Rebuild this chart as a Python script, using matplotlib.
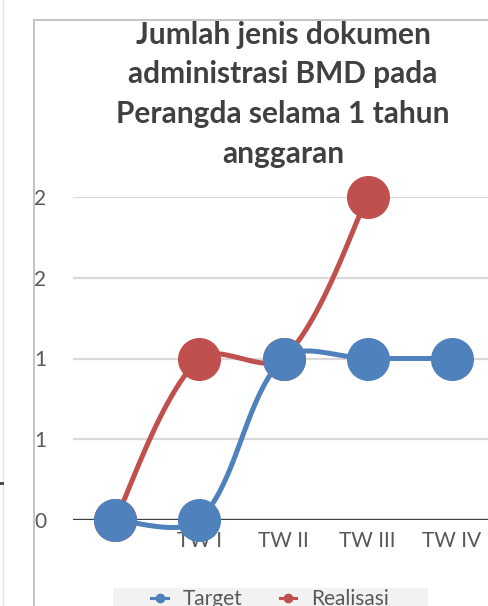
"""
Line chart: Jumlah jenis dokumen administrasi BMD pada Perangda.
"""
import matplotlib
matplotlib.use("Agg")
import matplotlib.pyplot as plt
from matplotlib.lines import Line2D
from matplotlib.patches import Rectangle
import numpy as np

W, H = 489, 606
DPI = 100

categories = ["", "TW I", "TW II", "TW III", "TW IV"]
target = [0, 0, 1, 1, 1]
realisasi = [0, 1, 1, 2]
y_ticks = [0, 0.5, 1, 1.5, 2]
y_tick_labels = ["0", "1", "1", "2", "2"]

BLUE = "#4F81BD"
RED = "#C0504D"
TEXT = "#595959"

plt.rcParams["font.family"] = ["Lato", "DejaVu Sans"]


def smooth(ax, xs, ys, n=40):
    """Excel-like smoothed line: chord weighted bezier in screen space."""
    pts = ax.transData.transform(np.column_stack([xs, ys]).astype(float))
    m = len(pts)
    d = np.linalg.norm(np.diff(pts, axis=0), axis=1)
    after = np.zeros_like(pts)
    before = np.zeros_like(pts)
    for i in range(m):
        if i == 0:
            after[i] = (pts[1] - pts[0]) / 6
        elif i == m - 1:
            before[i] = (pts[i] - pts[i - 1]) / 6
        else:
            tang = pts[i + 1] - pts[i - 1]
            tot = d[i - 1] + d[i]
            after[i] = tang * d[i] / tot / 3
            before[i] = tang * d[i - 1] / tot / 3
    out = [pts[0]]
    t = np.linspace(0, 1, n)[1:, None]
    for i in range(m - 1):
        p1, p2 = pts[i], pts[i + 1]
        c1 = p1 + after[i]
        c2 = p2 - before[i + 1]
        seg = (1 - t) ** 3 * p1 + 3 * (1 - t) ** 2 * t * c1 + 3 * (1 - t) * t ** 2 * c2 + t ** 3 * p2
        out.extend(seg)
    return ax.transData.inverted().transform(np.array(out))


fig = plt.figure(figsize=(W / DPI, H / DPI), dpi=DPI)
ax = fig.add_axes([73 / W, 1 - 520 / H, (494 - 73) / W, (520 - 197) / H])
ax.set_xlim(-0.5, 4.5)
ax.set_ylim(0, 2)
for s in ax.spines.values():
    s.set_visible(False)

for y in y_ticks[1:]:
    ax.axhline(y, color="#D9D9D9", lw=1.6, zorder=1)
ax.axhline(0, color="#404040", lw=2.4, zorder=2)

series = [("Realisasi", realisasi, RED), ("Target", target, BLUE)]
for name, vals, col in series:
    xs = np.arange(len(vals))
    curve = smooth(ax, xs, vals)
    ax.plot(curve[:, 0], curve[:, 1], color=col, lw=3.6, zorder=4,
            solid_capstyle="round", clip_on=False)
    ax.plot(xs, vals, "o", color=col, ms=30, zorder=5, clip_on=False)

ax.set_yticks(y_ticks)
ax.set_yticklabels(y_tick_labels)
ax.set_xticks(range(len(categories)))
ax.set_xticklabels(categories)
ax.tick_params(axis="y", length=0, pad=19, labelsize=15, labelcolor=TEXT)
ax.tick_params(axis="x", length=0, pad=8, labelsize=15, labelcolor=TEXT)

fig.text(283 / W, 1 - 21 / H,
         "Jumlah jenis dokumen\nadministrasi BMD pada\nPerangda selama 1 tahun\nanggaran",
         ha="center", va="top", fontsize=21.5, fontweight="bold", color="#404040",
         linespacing=1.5)

# chart area border and neighbouring sheet lines
fig.add_artist(Line2D([34 / W, 34 / W], [0, 1 - 20 / H], color="#BFBFBF", lw=1.3))
fig.add_artist(Line2D([34 / W, 1], [1 - 20 / H, 1 - 20 / H], color="#BFBFBF", lw=1.3))
fig.add_artist(Line2D([3 / W, 3 / W], [0, 1], color="#E3E3E3", lw=1.0))
fig.add_artist(Line2D([0, 2 / W], [1 - 483 / H, 1 - 483 / H], color="#404040", lw=2))

# legend background band
fig.add_artist(Rectangle((113 / W, 0), (428 - 113) / W, (606 - 588) / H,
                         transform=fig.transFigure, facecolor="#F2F2F2",
                         edgecolor="none", zorder=0))

handles = [Line2D([], [], color=BLUE, lw=2.2, marker="o", ms=6),
           Line2D([], [], color=RED, lw=2.2, marker="o", ms=6)]
leg = fig.legend(handles, ["Target", "Realisasi"], ncol=2, loc="upper center",
                 bbox_to_anchor=(270 / W, 1 - 587 / H), frameon=False,
                 fontsize=15, handlelength=0.8, handletextpad=0.7,
                 columnspacing=1.8, borderpad=0.1, borderaxespad=0)
for t in leg.get_texts():
    t.set_color(TEXT)

fig.savefig("out.png", dpi=DPI)
